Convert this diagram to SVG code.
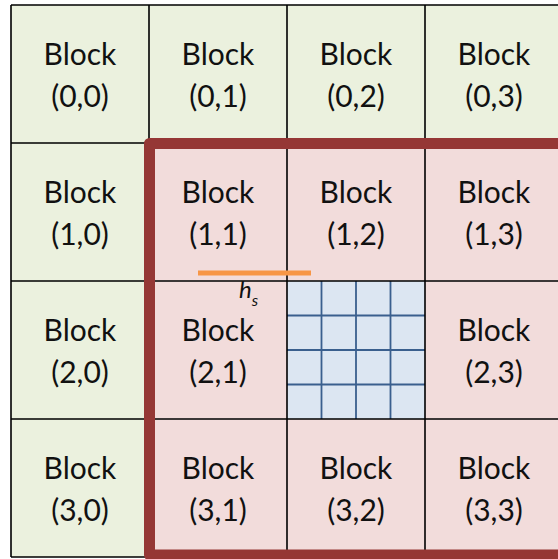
<svg xmlns="http://www.w3.org/2000/svg" width="558" height="559" viewBox="0 0 558 559">
<style>
.g{fill:#ebf1de}
.p{fill:#f2dcdb}
.b{fill:#dce6f2}
.t{font-family:Lato,"Open Sans","Liberation Sans",sans-serif;font-size:30px;fill:#111;text-anchor:middle}
.gl{stroke:#000;stroke-width:1.6;fill:none}
.bl{stroke:#3a5f8e;stroke-width:1.8;fill:none}
.hs{font-family:Lato,"Open Sans","Liberation Sans",sans-serif;font-style:italic;font-size:24px;fill:#111}
</style>
<rect width="558" height="559" fill="#fff"/>
<g id="block-0-0"><rect class="g" x="11" y="5" width="138" height="138"/><text class="t" x="80" y="65">Block</text><text class="t" x="80" y="107">(0,0)</text></g>
<g id="block-0-1"><rect class="g" x="149" y="5" width="138" height="138"/><text class="t" x="218" y="65">Block</text><text class="t" x="218" y="107">(0,1)</text></g>
<g id="block-0-2"><rect class="g" x="287" y="5" width="138" height="138"/><text class="t" x="356" y="65">Block</text><text class="t" x="356" y="107">(0,2)</text></g>
<g id="block-0-3"><rect class="g" x="425" y="5" width="138" height="138"/><text class="t" x="494" y="65">Block</text><text class="t" x="494" y="107">(0,3)</text></g>
<g id="block-1-0"><rect class="g" x="11" y="143" width="138" height="138"/><text class="t" x="80" y="203">Block</text><text class="t" x="80" y="245">(1,0)</text></g>
<g id="block-1-1"><rect class="p" x="149" y="143" width="138" height="138"/><text class="t" x="218" y="203">Block</text><text class="t" x="218" y="245">(1,1)</text></g>
<g id="block-1-2"><rect class="p" x="287" y="143" width="138" height="138"/><text class="t" x="356" y="203">Block</text><text class="t" x="356" y="245">(1,2)</text></g>
<g id="block-1-3"><rect class="p" x="425" y="143" width="138" height="138"/><text class="t" x="494" y="203">Block</text><text class="t" x="494" y="245">(1,3)</text></g>
<g id="block-2-0"><rect class="g" x="11" y="281" width="138" height="138"/><text class="t" x="80" y="341">Block</text><text class="t" x="80" y="383">(2,0)</text></g>
<g id="block-2-1"><rect class="p" x="149" y="281" width="138" height="138"/><text class="t" x="218" y="341">Block</text><text class="t" x="218" y="383">(2,1)</text></g>
<g id="block-2-2"><rect class="b" x="287" y="281" width="138" height="138"/>
<path class="bl" d="M321.5 281V419M356 281V419M390.5 281V419M287 315.5H425M287 350H425M287 384.5H425"/></g>
<g id="block-2-3"><rect class="p" x="425" y="281" width="138" height="138"/><text class="t" x="494" y="341">Block</text><text class="t" x="494" y="383">(2,3)</text></g>
<g id="block-3-0"><rect class="g" x="11" y="419" width="138" height="138"/><text class="t" x="80" y="479">Block</text><text class="t" x="80" y="521">(3,0)</text></g>
<g id="block-3-1"><rect class="p" x="149" y="419" width="138" height="138"/><text class="t" x="218" y="479">Block</text><text class="t" x="218" y="521">(3,1)</text></g>
<g id="block-3-2"><rect class="p" x="287" y="419" width="138" height="138"/><text class="t" x="356" y="479">Block</text><text class="t" x="356" y="521">(3,2)</text></g>
<g id="block-3-3"><rect class="p" x="425" y="419" width="138" height="138"/><text class="t" x="494" y="479">Block</text><text class="t" x="494" y="521">(3,3)</text></g>
<g id="grid-lines">
<path class="gl" d="M11 5V557M149 5V557M287 5V557M425 5V557M11 5H563M11 143H563M11 281H563M11 419H563M11 557H563"/>
</g>
<rect x="149.5" y="143.5" width="440" height="411.5" fill="none" stroke="#953735" stroke-width="11" stroke-linejoin="round"/>
<line x1="198" y1="273" x2="311" y2="273" stroke="#f79646" stroke-width="5"/>
<text class="hs" x="239" y="298">h<tspan font-size="16" dy="8">s</tspan></text>
</svg>
